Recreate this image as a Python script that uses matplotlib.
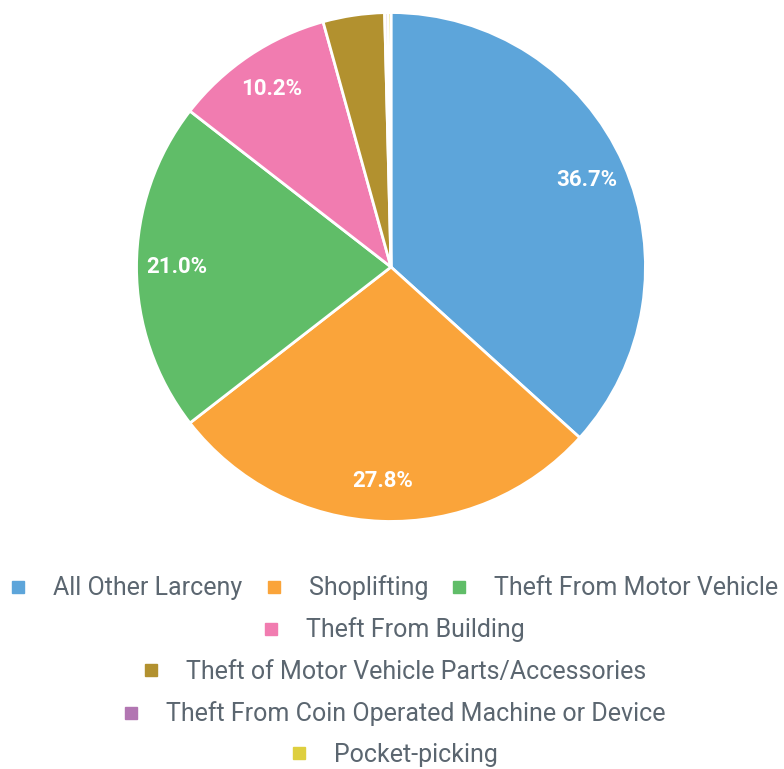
import matplotlib.pyplot as plt
from matplotlib.lines import Line2D

plt.rcParams['font.family'] = ['Roboto', 'DejaVu Sans']

categories = ["All Other Larceny", "Shoplifting", "Theft From Motor Vehicle",
              "Theft From Building", "Theft of Motor Vehicle Parts/Accessories",
              "Theft From Coin Operated Machine or Device", "Pocket-picking"]
values = [36.7, 27.8, 21.0, 10.2, 3.9, 0.2, 0.2]
colors = ["#5DA5DA", "#FAA43A", "#60BD68", "#F17CB0", "#B2912F", "#B276B2", "#DECF3F"]
legend_rows = [[0, 1, 2], [3], [4], [5], [6]]
row_y = [588, 630, 672, 714, 755]

W, H = 784, 769
fig = plt.figure(figsize=(W / 100, H / 100), dpi=100)

cx, cy, r = 391, 267, 257
ax = fig.add_axes([(cx - r) / W, 1 - (cy + r) / H, 2 * r / W, 2 * r / H])


def fmt(p):
    return f"{p:.1f}%" if p > 5 else ""


wedges, texts, autotexts = ax.pie(values, colors=colors, startangle=90, counterclock=False,
                                  autopct=fmt, pctdistance=0.84, radius=1,
                                  wedgeprops=dict(edgecolor="white", linewidth=2))
for t in autotexts:
    t.set_color("white")
    t.set_fontsize(16)
    t.set_fontweight("bold")
ax.set_xlim(-1.01, 1.01)
ax.set_ylim(-1.01, 1.01)
ax.set_aspect("equal")
ax.axis("off")

for row, y in zip(legend_rows, row_y):
    handles = [Line2D([], [], marker="s", linestyle="none", markersize=8,
                      markerfacecolor=colors[i], markeredgecolor=colors[i]) for i in row]
    labels = [categories[i] for i in row]
    fig.legend(handles, labels, loc="center", bbox_to_anchor=(0.5, 1 - y / H),
               ncol=len(row), frameon=False, fontsize=18, labelcolor="#5b6670",
               handlelength=1.0, handletextpad=0.9, columnspacing=0.75,
               borderaxespad=0, borderpad=0)

fig.savefig("out.png", dpi=100)
